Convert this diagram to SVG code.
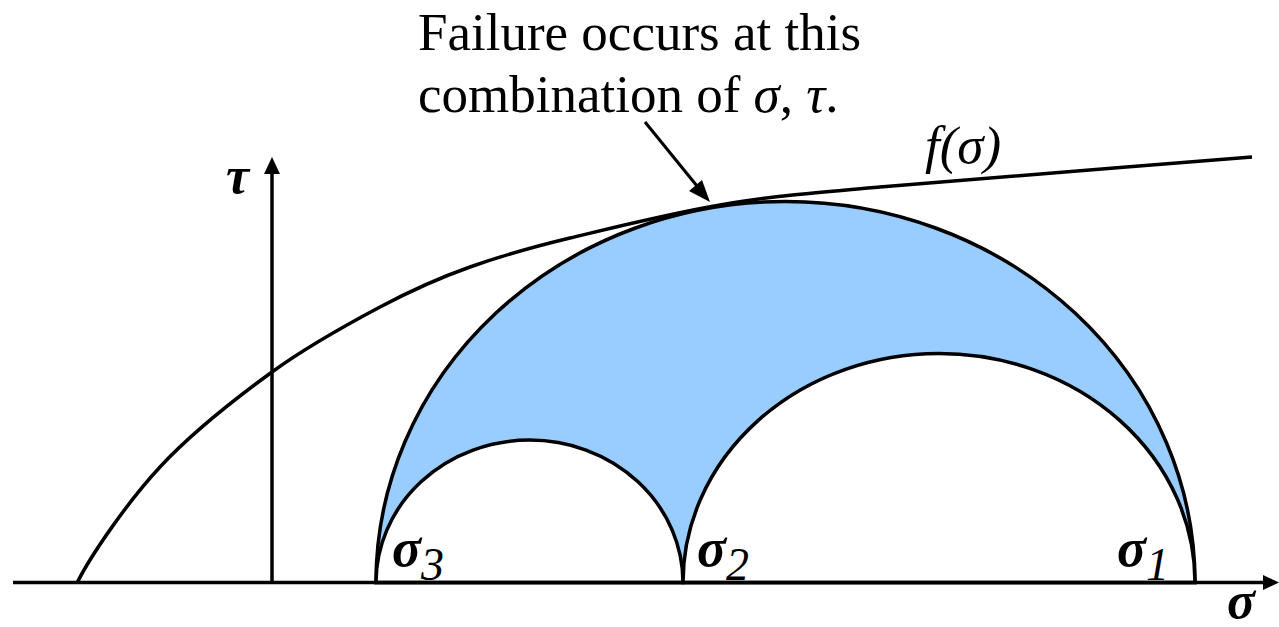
<svg xmlns="http://www.w3.org/2000/svg" width="1279" height="627" viewBox="0 0 1279 627">
<style>
.ln{fill:none;stroke:#000;stroke-width:3.5;stroke-linecap:butt}
.t{font-family:"Liberation Serif","Times New Roman",serif;font-size:53px;fill:#000}
.bi{font-family:"Liberation Serif","Times New Roman",serif;font-weight:bold;font-style:italic;fill:#000}
.it{font-style:italic}
</style>
<g id="mohr-circles">
<path d="M376,582.5 A409.5,381 0 0 1 1195,582.5 Z" fill="#99CCFF" stroke="#000" stroke-width="3.5"/>
<path d="M376,582.5 A153.5,142.5 0 0 1 683,582.5 Z" fill="#fff" stroke="#000" stroke-width="3.5"/>
<path d="M683,582.5 A256,229 0 0 1 1195,582.5 Z" fill="#fff" stroke="#000" stroke-width="3.5"/>
</g>
<g id="envelope">
<path class="ln" d="M77,583 C91,555 127.5,502 160,467 C192.5,432 235.3,398.7 272,372 C308.7,345.3 347,324.5 380,307 C413,289.5 438.3,278.2 470,267 C501.7,255.8 528.3,248 570,238 C611.7,228 668.3,213.8 720,205 C771.7,196.2 791.3,195 880,187 C968.7,179 1128,167 1252,157"/>
</g>
<g id="connectors">
<line x1="13" y1="582.5" x2="1264" y2="582.5" stroke="#000" stroke-width="3.5"/>
<path d="M1279,582.5 L1263,575 L1263,590 Z" fill="#000"/>
<line x1="272" y1="582.5" x2="272" y2="170" stroke="#000" stroke-width="3.5"/>
<path d="M272,157 L264,174 L280,174 Z" fill="#000"/>
<line x1="645" y1="122" x2="697" y2="186" stroke="#000" stroke-width="3"/>
<path d="M710,202 L689,191 L702,180 Z" fill="#000"/>
</g>
<g id="labels">
<text class="t" x="418" y="50">Failure occurs at this</text>
<text class="t" x="418" y="112">combination of <tspan class="it">σ</tspan>, <tspan class="it">τ</tspan>.</text>
<text class="t it" x="925" y="163" font-size="58">f(σ)</text>
<text class="bi" x="226" y="193" font-size="52">τ</text>
<text class="bi" x="1227" y="618" font-size="52">σ</text>
<text class="bi" x="392" y="566" font-size="54">σ<tspan font-size="46" font-weight="normal" dy="14">3</tspan></text>
<text class="bi" x="697" y="566" font-size="54">σ<tspan font-size="46" font-weight="normal" dy="14">2</tspan></text>
<text class="bi" x="1117" y="566" font-size="54">σ<tspan font-size="46" font-weight="normal" dy="14">1</tspan></text>
</g>
</svg>
